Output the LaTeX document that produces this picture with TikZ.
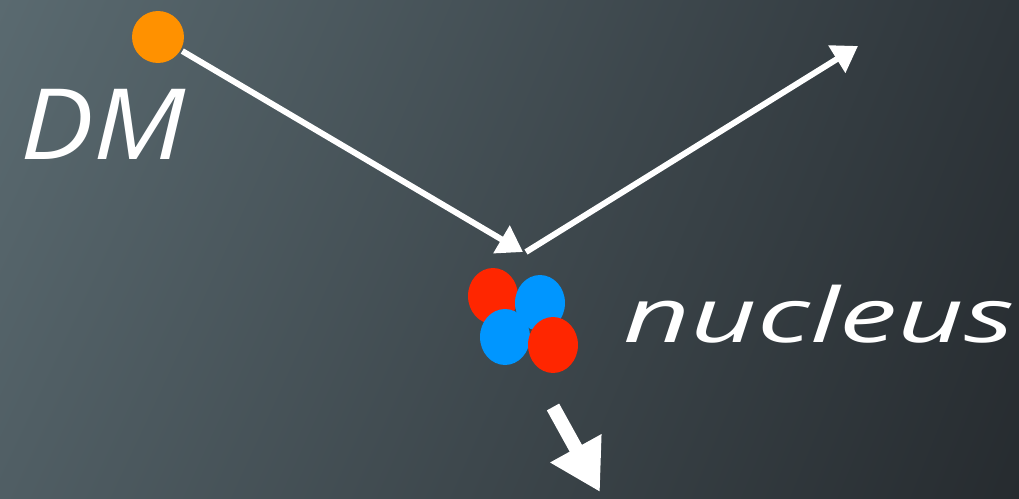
\documentclass[tikz,border=0pt]{standalone}
\usepackage{fontspec}
\setmainfont{Open Sans}
\usepackage{tikz}
\usetikzlibrary{arrows.meta, shadings, shapes.geometric}

\definecolor{bgtl}{RGB}{90,106,112}
\definecolor{bgtr}{RGB}{46,53,58}
\definecolor{bgbl}{RGB}{80,94,100}
\definecolor{bgbr}{RGB}{38,43,47}
\definecolor{dmorange}{RGB}{255,145,0}
\definecolor{protonred}{RGB}{255,38,0}
\definecolor{neutronblue}{RGB}{0,150,255}

\tikzset{
  track/.style={draw=white, line width=3.4pt, -{Triangle[length=0.5cm,width=0.62cm]}},
  recoil/.style={draw=white, line width=8pt, -{Triangle[length=1cm,width=1.1cm]}},
  proton/.style={fill=protonred, draw=none, ellipse, minimum width=1cm, minimum height=1.12cm, inner sep=0pt},
  neutron/.style={fill=neutronblue, draw=none, ellipse, minimum width=1cm, minimum height=1.12cm, inner sep=0pt},
  chalk/.style={text=white, inner sep=0pt}
}

\begin{document}
\begin{tikzpicture}[x=0.02cm, y=-0.02cm]
  % background
  \shade[upper left=bgtl, upper right=bgtr, lower left=bgbl, lower right=bgbr] (0,0) rectangle (1019,498);
  \useasboundingbox (0,0) rectangle (1019,498);

  % dark matter particle
  \node[circle, fill=dmorange, minimum size=1.04cm, inner sep=0pt] (dm) at (158,37) {};
  \node[chalk] (dmlabel) at (103,124)
    {\scalebox{1.12}[1]{\itshape\fontsize{56}{56}\selectfont DM}};

  % scattering
  \coordinate (hit) at (523,252);
  \coordinate (out) at (858,46);
  \draw[track, shorten <=1pt] (dm.-30) -- (hit);
  \draw[track] ([xshift=0.06cm]hit.center) -- (out);

  % nucleus
  \node[proton]  (p1) at (493,296) {};
  \node[neutron] (n1) at (540,303) {};
  \node[neutron] (n2) at (505,337) {};
  \node[proton]  (p2) at (553,345) {};
  \node[chalk, anchor=base west] (nuclabel) at (623,342)
    {\scalebox{1.54}[1]{\itshape\fontsize{43}{43}\selectfont nucleus}};

  % nuclear recoil
  \coordinate (recstart) at (553,407);
  \coordinate (recend) at (600,492);
  \draw[recoil] (recstart) -- (recend);
\end{tikzpicture}
\end{document}
